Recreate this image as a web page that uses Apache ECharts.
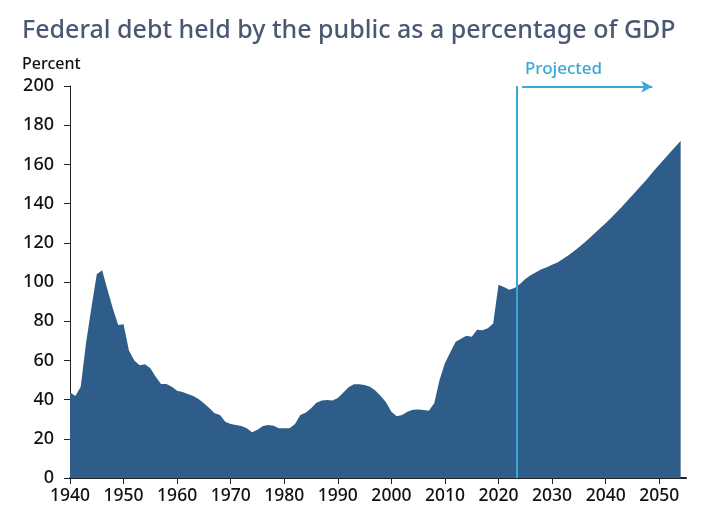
<!DOCTYPE html>
<html>
<head>
<meta charset="utf-8">
<script src="https://cdn.jsdelivr.net/npm/echarts@6/dist/echarts.min.js"></script>
<style>
  html, body { margin: 0; padding: 0; background: #fff; }
  #chart { width: 704px; height: 529px; }
</style>
</head>
<body>
<div id="chart"></div>
<script>
// 年份与债务占GDP比例
const histYears = []
for (let y = 1940; y <= 2023; y++) histYears.push(y)
const histValues = [
  43.7, 41.8, 46.6, 69, 87, 103.9, 106, 96, 86.5, 78,
  78.5, 65, 60, 57.5, 58, 56, 51.7, 48, 48, 46.6,
  44.5, 43.9, 42.8, 41.8, 40.3, 38.2, 35.7, 33, 32.1, 28.7,
  27.6, 27, 26.5, 25.4, 23.4, 24.6, 26.5, 27, 26.7, 25.4,
  25.4, 25.4, 27.5, 32.1, 33.3, 35.6, 38.4, 39.5, 39.8, 39.5,
  40.8, 43.5, 46.3, 47.8, 47.8, 47.5, 46.5, 44.6, 41.8, 38.6,
  33.8, 31.5, 32.1, 33.8, 34.8, 35, 34.7, 34.3, 38.1, 50.1,
  58.7, 64.2, 69.5, 71, 72.6, 72.1, 75.6, 75.4, 76.4, 78.8,
  98.6, 97.4, 96, 97
]
const projYears = []
for (let y = 2024; y <= 2054; y++) projYears.push(y)
const projValues = [
  99, 101.5, 103.5, 105, 106.5, 107.5, 108.8, 110, 111.7, 113.5,
  115.5, 117.7, 120, 122.5, 125, 127.5, 130, 132.7, 135.5, 138.3,
  141.3, 144.3, 147.3, 150.3, 153.5, 156.7, 159.8, 162.9, 166, 169,
  172
]
const yTicks = [0, 20, 40, 60, 80, 100, 120, 140, 160, 180, 200]
const projectionStart = 2023.4

const years = histYears.concat(projYears)
const values = histValues.concat(projValues)

const myChart = echarts.init(document.querySelector('#chart'))

const option = {
  animation: false,
  title: [
    {
      text: 'Federal debt held by the public as a percentage of GDP',
      left: 17,
      top: 13,
      textStyle: {
        color: '#4a5874',
        fontFamily: 'Noto Sans',
        fontSize: 25,
        fontWeight: 500
      }
    },
    {
      text: 'Percent',
      left: 17,
      top: 51,
      textStyle: {
        color: '#111',
        fontFamily: 'Noto Sans',
        fontSize: 16,
        fontWeight: 500
      }
    },
    {
      text: 'Projected',
      left: 520,
      top: 56,
      textStyle: {
        color: '#38a8d6',
        fontFamily: 'Noto Sans',
        fontSize: 17,
        fontWeight: 500
      }
    }
  ],
  grid: {
    left: 70,
    right: 18,
    top: 86,
    bottom: 51
  },
  xAxis: {
    type: 'value',
    min: 1940,
    max: 2055,
    interval: 10,
    splitLine: { show: false },
    axisLine: {
      show: true,
      onZero: false,
      lineStyle: { color: '#222', width: 2 }
    },
    axisTick: {
      show: true,
      length: 6,
      lineStyle: { color: '#222' }
    },
    axisLabel: {
      color: '#111',
      fontFamily: 'Noto Sans',
      fontSize: 17.5,
      fontWeight: 500,
      margin: 9,
      showMaxLabel: false,
      formatter: v => String(v)
    }
  },
  yAxis: {
    type: 'value',
    min: yTicks[0],
    max: yTicks[yTicks.length - 1],
    interval: 20,
    splitLine: { show: false },
    axisLine: {
      show: true,
      lineStyle: { color: '#222', width: 1 }
    },
    axisTick: {
      show: true,
      length: 6,
      lineStyle: { color: '#222' }
    },
    axisLabel: {
      color: '#111',
      fontFamily: 'Noto Sans',
      fontSize: 18,
      fontWeight: 500,
      margin: 16
    }
  },
  series: [
    {
      type: 'line',
      data: years.map((y, i) => [y, values[i]]),
      showSymbol: false,
      lineStyle: { width: 0 },
      areaStyle: { color: '#2e5d89', opacity: 1 },
      markLine: {
        silent: true,
        animation: false,
        label: { show: false },
        data: [
          [
            { coord: [projectionStart, 0], symbol: 'none' },
            { coord: [projectionStart, 200], symbol: 'none' }
          ],
          [
            { coord: [2024.4, 199.6], symbol: 'none' },
            { coord: [2048.7, 199.6], symbol: 'arrow', symbolSize: [9, 11] }
          ]
        ],
        lineStyle: {
          color: '#38a8d6',
          width: 2,
          type: 'solid'
        }
      }
    }
  ]
}

myChart.setOption(option)
</script>
</body>
</html>
